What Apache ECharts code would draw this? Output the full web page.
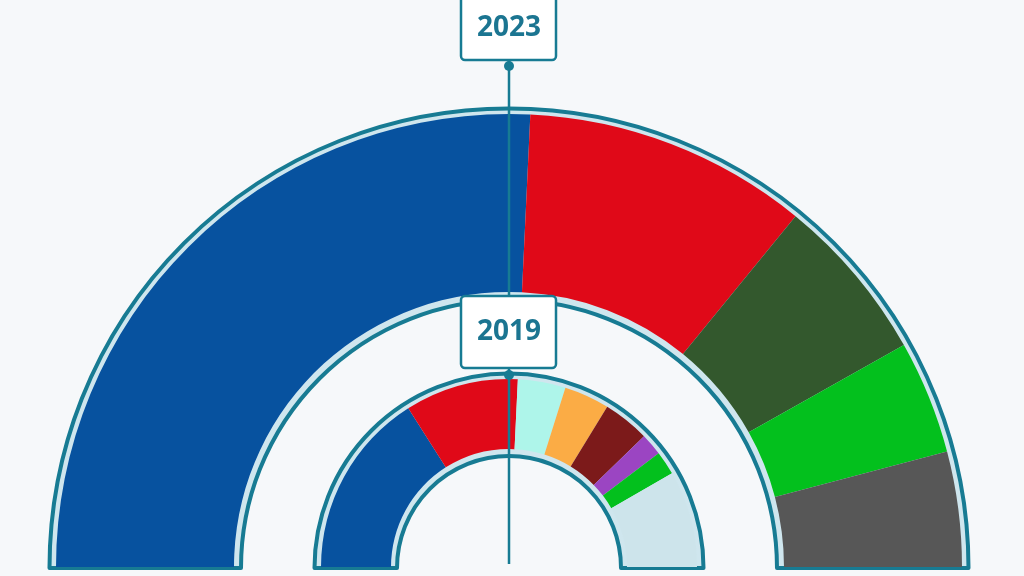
<!DOCTYPE html>
<html>
<head>
<meta charset="utf-8">
<script src="https://cdn.jsdelivr.net/npm/echarts@6/dist/echarts.min.js"></script>
<style>
  html, body { margin: 0; padding: 0; background: #f6f8fa; }
  #chart { width: 1024px; height: 576px; }
</style>
</head>
<body>
<div id="chart"></div>
<script>
  // share of the half circle per party
  const parties2023 = ["P1", "P2", "P3", "P4", "P5"];
  const values2023 = [51.5, 20.3, 11.9, 8.1, 8.2];
  const parties2019 = ["P1", "P2", "P6", "P7", "P8", "P9", "P4", "Resto"];
  const values2019 = [32.0, 19.5, 8.2, 7.8, 8.0, 3.8, 4.1, 16.6];
  const yearLabels = ["2023", "2019"];

  const colors2023 = ["#07529f", "#e00918", "#33582d", "#03c01d", "#575757"];
  const colors2019 = ["#07529f", "#e00918", "#aef5ea", "#fbac45", "#7c1a1a", "#9b45c2", "#03c01d", "#cde4eb"];

  const teal = "#177b93";
  const gap = "#cfe6ee";
  const cx = 509, cy = 567;

  // teal-outlined light band behind each ring
  function band(radius) {
    return {
      type: "pie",
      silent: true,
      center: [cx, cy + 1],
      radius: radius,
      startAngle: 180,
      endAngle: 0,
      z: 1,
      label: { show: false },
      labelLine: { show: false },
      itemStyle: { color: gap, borderColor: teal, borderWidth: 4 },
      data: [{ value: 1, name: "band" }],
    };
  }

  function ring(radius, names, values, colors) {
    return {
      type: "pie",
      silent: true,
      center: [cx, cy],
      radius: radius,
      startAngle: 180,
      endAngle: 0,
      clockwise: true,
      z: 2,
      label: { show: false },
      labelLine: { show: false },
      data: names.map((n, i) => ({ name: n, value: values[i], itemStyle: { color: colors[i], borderWidth: 0 } })),
    };
  }

  function yearBox(text, top, height, dotY) {
    return [
      {
        type: "circle",
        z: 101,
        shape: { cx: cx, cy: dotY, r: 5 },
        style: { fill: teal },
      },
      {
        type: "rect",
        z: 102,
        shape: { x: 461, y: top, width: 95, height: height, r: 4 },
        style: { fill: "#ffffff", stroke: teal, lineWidth: 2.5 },
      },
      {
        type: "text",
        z: 103,
        x: cx,
        y: top + height / 2,
        style: {
          text: text,
          fill: "#1b7591",
          font: "bold 28px 'Open Sans', 'Noto Sans', sans-serif",
          align: "center",
          verticalAlign: "middle",
        },
      },
    ];
  }

  const myChart = echarts.init(document.getElementById("chart"));
  const option = {
    backgroundColor: "#f6f8fa",
    animation: false,
    series: [
      band([268, 459.5]),
      ring([275, 453], parties2023, values2023, colors2023),
      band([112, 194.5]),
      ring([118, 188], parties2019, values2019, colors2019),
    ],
    graphic: [
      // long line from the top label down to the centre
      {
        type: "line",
        z: 99,
        shape: { x1: cx, y1: 60, x2: cx, y2: 564 },
        style: { stroke: teal, lineWidth: 2.5 },
      },
      ...yearBox(yearLabels[0], -4, 64, 66),
      ...yearBox(yearLabels[1], 296, 72, 375),
    ],
  };
  myChart.setOption(option);
</script>
</body>
</html>
